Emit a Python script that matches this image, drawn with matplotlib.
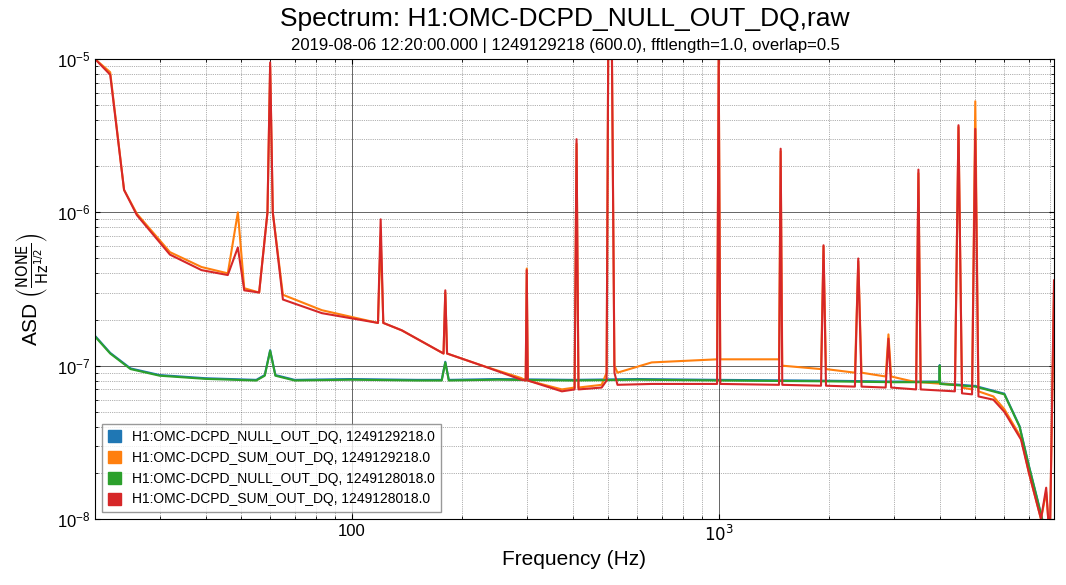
import matplotlib
matplotlib.use("Agg")
import matplotlib.pyplot as plt
from matplotlib.patches import Patch

plt.rcParams['font.family'] = ['Liberation Sans', 'DejaVu Sans']

labels = ["H1:OMC-DCPD_NULL_OUT_DQ, 1249129218.0",
          "H1:OMC-DCPD_SUM_OUT_DQ, 1249129218.0",
          "H1:OMC-DCPD_NULL_OUT_DQ, 1249128018.0",
          "H1:OMC-DCPD_SUM_OUT_DQ, 1249128018.0"]
colors = ["#1f77b4", "#ff7f0e", "#2ca02c", "#d62728"]

# NULL channel (both times nearly identical)
null_f = [20, 22, 25, 30, 40, 55, 58, 60, 62, 70, 100, 150, 176, 180, 184, 250, 400, 600,
          1000, 2000, 3000, 3990, 4000, 4010, 5000, 6000, 6600, 7000, 7400, 7600]
null_a = [1.55e-7, 1.2e-7, 9.5e-8, 8.6e-8, 8.2e-8, 8.0e-8, 8.6e-8, 1.25e-7, 8.6e-8, 8.0e-8,
          8.1e-8, 8.0e-8, 8.0e-8, 1.05e-7, 8.0e-8, 8.1e-8, 8.0e-8, 8.1e-8,
          8.0e-8, 7.9e-8, 7.8e-8, 7.8e-8, 1.0e-7, 7.6e-8, 7.3e-8, 6.5e-8, 4.0e-8, 2.2e-8, 1.3e-8, 1.0e-8]

# SUM channel, second time (red)
sum_f = [20, 22, 24, 26, 32, 39, 46, 49, 51, 56, 59, 60, 61, 65, 83, 118, 120, 122, 137,
         178, 180, 182, 227, 290, 298, 300, 302, 374, 405, 410, 415, 480, 495, 500, 505,
         512, 520, 530, 657, 990, 1000, 1010, 1460, 1475, 1490, 1900, 1930, 1960, 2350,
         2400, 2450, 2850, 2900, 2950, 3450, 3500, 3550, 4400, 4500, 4600, 4900, 5000,
         5100, 5600, 6000, 6660, 7000, 7550, 7800, 7900, 8000, 8192]
sum_a = [1.0e-5, 7.9e-6, 1.4e-6, 9.6e-7, 5.3e-7, 4.2e-7, 3.9e-7, 5.9e-7, 3.1e-7, 3.0e-7,
         1.0e-6, 9.5e-6, 1.0e-6, 2.7e-7, 2.2e-7, 1.9e-7, 9.0e-7, 1.9e-7, 1.7e-7,
         1.2e-7, 3.1e-7, 1.2e-7, 1.0e-7, 8.1e-8, 8.0e-8, 4.2e-7, 8.0e-8, 6.8e-8, 7.0e-8,
         3.0e-6, 7.0e-8, 7.2e-8, 8.0e-8, 1.0e-5, 1.0e-5, 1.0e-5, 9.0e-8, 7.5e-8, 7.6e-8,
         7.6e-8, 1.0e-5, 7.6e-8, 7.5e-8, 2.6e-6, 7.5e-8, 7.4e-8, 6.1e-7, 7.4e-8, 7.3e-8,
         5.0e-7, 7.3e-8, 7.2e-8, 1.5e-7, 7.2e-8, 7.0e-8, 1.9e-6, 7.0e-8, 6.8e-8, 3.7e-6,
         6.6e-8, 6.5e-8, 3.5e-6, 6.3e-8, 6.0e-8, 5.0e-8, 3.3e-8, 2.0e-8, 1.0e-8, 1.6e-8,
         1.0e-8, 1.0e-8, 3.6e-7]

# SUM channel, first time (orange): same frequencies, higher floor above ~600 Hz
sum1_a = [1.0e-5, 8.2e-6, 1.4e-6, 9.8e-7, 5.5e-7, 4.4e-7, 4.0e-7, 1.0e-6, 3.2e-7, 3.0e-7,
          1.0e-6, 9.0e-6, 1.0e-6, 2.9e-7, 2.3e-7, 1.9e-7, 7.0e-7, 1.9e-7, 1.7e-7,
          1.2e-7, 3.0e-7, 1.2e-7, 1.0e-7, 8.3e-8, 8.0e-8, 4.3e-7, 8.0e-8, 7.0e-8, 7.2e-8,
          2.8e-6, 7.2e-8, 7.5e-8, 9.0e-8, 1.0e-5, 1.0e-5, 1.0e-5, 1.0e-7, 9.0e-8, 1.05e-7,
          1.1e-7, 1.0e-5, 1.1e-7, 1.1e-7, 2.5e-6, 1.0e-7, 9.5e-8, 6.0e-7, 9.5e-8, 9.0e-8,
          4.8e-7, 9.0e-8, 8.5e-8, 1.6e-7, 8.5e-8, 7.8e-8, 1.8e-6, 7.8e-8, 7.5e-8, 3.6e-6,
          7.2e-8, 7.0e-8, 5.3e-6, 6.8e-8, 6.3e-8, 5.2e-8, 3.4e-8, 2.0e-8, 1.0e-8, 1.5e-8,
          1.0e-8, 1.0e-8, 3.0e-7]

fig = plt.figure(figsize=(10.66, 5.85), dpi=100)
ax = fig.add_axes([95 / 1066, 1 - 519 / 585, 959 / 1066, 460 / 585])

ax.plot(null_f, [a * 1.01 for a in null_a], color=colors[0], lw=1.5)
ax.plot(sum_f, sum1_a, color=colors[1], lw=1.5)
ax.plot(null_f, null_a, color=colors[2], lw=1.5)
ax.plot(sum_f, sum_a, color=colors[3], lw=1.5)

ax.set_xscale('log')
ax.set_yscale('log')
ax.set_xlim(20, 8192)
ax.set_ylim(1e-8, 1e-5)
ax.set_xticks([100, 1000])
ax.set_xticklabels(["100", r"$10^3$"])
ax.grid(True, which='major', color='black', lw=0.6, alpha=0.7)
ax.grid(True, which='minor', color='black', ls=':', lw=0.5, alpha=0.6)
ax.tick_params(labelsize=12)
ax.tick_params(which='both', direction='in', top=True, right=True)
ax.set_xlabel("Frequency (Hz)", fontsize=15)
ax.set_ylabel(r"ASD $\left(\frac{\mathrm{NONE}}{\mathrm{Hz}^{1/2}}\right)$", fontsize=15)
fig.text(0.53, 0.955, "Spectrum: H1:OMC-DCPD_NULL_OUT_DQ,raw", ha='center', fontsize=19)
fig.text(0.53, 0.915, "2019-08-06 12:20:00.000 | 1249129218 (600.0), fftlength=1.0, overlap=0.5",
         ha='center', fontsize=12)

handles = [Patch(color=c) for c in colors]
ax.legend(handles, labels, loc='lower left', fontsize=10, fancybox=False,
          edgecolor='gray', handlelength=1.0, handleheight=1.0)

fig.savefig("out.png", dpi=100)
